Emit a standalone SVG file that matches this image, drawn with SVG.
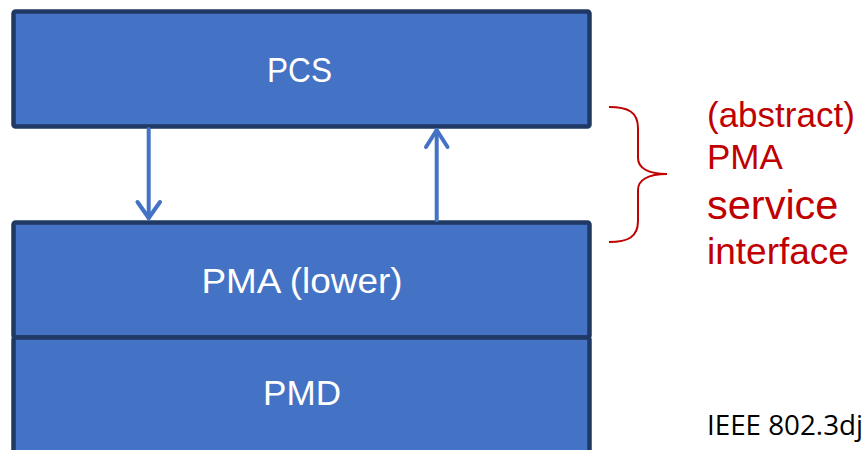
<svg xmlns="http://www.w3.org/2000/svg" width="867" height="450" viewBox="0 0 867 450">
  <style>
    .layer { fill: #4472c4; stroke: #1f3864; stroke-width: 4.5; }
    .label { font-family: "Liberation Sans", Arial, sans-serif; font-size: 35px; fill: #ffffff; text-anchor: middle; }
    .flow { fill: none; stroke: #4472c4; stroke-width: 4; stroke-linecap: round; stroke-linejoin: round; }
    .note { font-family: "Liberation Sans", Arial, sans-serif; fill: #c00000; }
  </style>
  <rect width="867" height="450" fill="#ffffff"/>

  <g id="pcs">
    <rect class="layer" x="13.5" y="11.5" width="576" height="115" rx="2"/>
    <text class="label" x="299.5" y="82" textLength="65" lengthAdjust="spacingAndGlyphs">PCS</text>
  </g>

  <g id="pma">
    <rect class="layer" x="13.5" y="222.5" width="576" height="115" rx="2"/>
    <text class="label" x="302" y="293" textLength="201" lengthAdjust="spacingAndGlyphs">PMA (lower)</text>
  </g>

  <g id="pmd">
    <rect class="layer" x="13.5" y="337.5" width="576" height="130" rx="2"/>
    <text class="label" x="302" y="405" textLength="78" lengthAdjust="spacingAndGlyphs">PMD</text>
  </g>

  <g id="connectors">
    <!-- PCS to PMA -->
    <path class="flow" d="M148.7,129 L148.7,218"/>
    <path class="flow" d="M137.5,202 L148.7,218 L160,202"/>
    <!-- PMA to PCS -->
    <path class="flow" d="M436.7,220 L436.7,130"/>
    <path class="flow" d="M426,147 L436.7,130 L447.5,147"/>
  </g>

  <g id="service-interface">
    <path d="M609,107 C628,107 638,112 638,128 L638,158 C638,168 648,174 667,174 C648,174 638,180 638,190 L638,221 C638,237 628,242 609,242" fill="none" stroke="#c00000" stroke-width="2"/>
    <text class="note" x="707" y="127" font-size="35">(abstract)</text>
    <text class="note" x="707" y="169" font-size="35">PMA</text>
    <text class="note" x="707" y="219" font-size="41.5">service</text>
    <text class="note" x="707" y="264" font-size="37">interface</text>
  </g>

  <text x="707" y="435" font-family="'Open Sans', 'Liberation Sans', sans-serif" font-size="27" fill="#000000" textLength="156" lengthAdjust="spacingAndGlyphs">IEEE 802.3dj</text>
</svg>
